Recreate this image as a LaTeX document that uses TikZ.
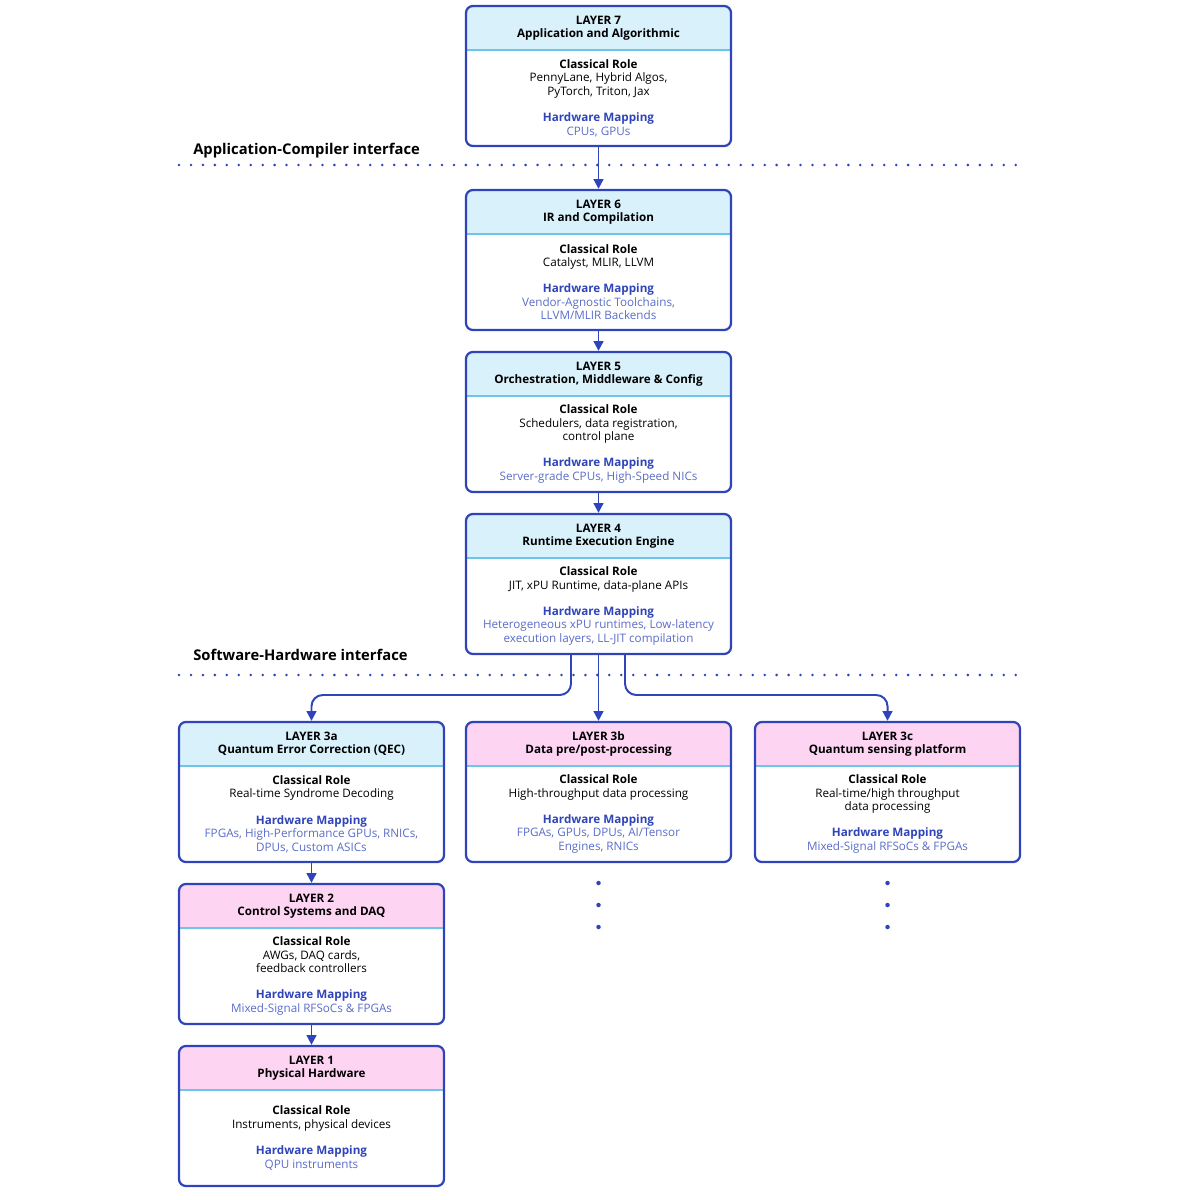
\documentclass[tikz,border=0pt]{standalone}
\usepackage{fontspec}
\setmainfont{Open Sans}
\usetikzlibrary{arrows.meta}
\definecolor{frameblue}{HTML}{2E44B8}
\definecolor{hdrcyan}{HTML}{D9F1FB}
\definecolor{hdrpink}{HTML}{FDD5F3}
\definecolor{sepcyan}{HTML}{6CC6EA}
\definecolor{mapdark}{HTML}{2E44B8}
\definecolor{maplight}{HTML}{5A6CC8}
\tikzset{
  frame/.style={draw=frameblue, line width=1.6pt, rounded corners=5pt},
  sepline/.style={draw=sepcyan, line width=0.8pt},
  title/.style={font=\fontsize{8.3}{9.6}\selectfont\bfseries, align=center, inner sep=0pt},
  body/.style={font=\fontsize{8.3}{9.6}\selectfont, align=center, inner sep=0pt},
  flow/.style={draw=frameblue, line width=1.4pt, -{Triangle[length=7pt,width=7pt]}},
  iface/.style={draw=frameblue, line width=2pt, line cap=round, dash pattern=on 0pt off 8.5pt},
  ifacelabel/.style={font=\fontsize{10.5}{12}\selectfont\bfseries, anchor=west, inner sep=0pt},
  vdot/.style={circle, fill=frameblue, inner sep=0pt, minimum size=3.2pt},
}
\newcommand{\rolehead}{\textbf{Classical Role}}
\newcommand{\maphead}{\textcolor{mapdark}{\textbf{Hardware Mapping}}}
% name, center x, top y, header fill, title, body
\newcommand{\layer}[6]{%
  \fill[#4] (#2-132.5,#3+44) [rounded corners=5pt] -- (#2-132.5,#3) -- (#2+132.5,#3) [sharp corners] -- (#2+132.5,#3+44) -- cycle;
  \draw[sepline] (#2-132.5,#3+44) -- (#2+132.5,#3+44);
  \node[frame, minimum width=6.625cm, minimum height=3.5cm] (#1) at (#2,#3+70) {};
  \node[title] (#1-t) at (#2,#3+22) {#5};
  \node[body] (#1-b) at (#2,#3+92) {#6};
}
\begin{document}
\begin{tikzpicture}[x=0.025cm, y=-0.025cm]
\useasboundingbox (0,0) rectangle (1200,1200);
% layers
\layer{l7}{598.5}{6}{hdrcyan}{LAYER 7\\Application and Algorithmic}
  {\rolehead\\PennyLane, Hybrid Algos,\\PyTorch, Triton, Jax\\[9pt]\maphead\\\textcolor{maplight}{CPUs, GPUs}}
\layer{l6}{598.5}{190}{hdrcyan}{LAYER 6\\IR and Compilation}
  {\rolehead\\Catalyst, MLIR, LLVM\\[9pt]\maphead\\\textcolor{maplight}{Vendor-Agnostic Toolchains,}\\\textcolor{maplight}{LLVM/MLIR Backends}}
\layer{l5}{598.5}{352}{hdrcyan}{LAYER 5\\Orchestration, Middleware \& Config}
  {\rolehead\\Schedulers, data registration,\\control plane\\[9pt]\maphead\\\textcolor{maplight}{Server-grade CPUs, High-Speed NICs}}
\layer{l4}{598.5}{514}{hdrcyan}{LAYER 4\\Runtime Execution Engine}
  {\rolehead\\JIT, xPU Runtime, data-plane APIs\\[9pt]\maphead\\\textcolor{maplight}{Heterogeneous xPU runtimes, Low-latency}\\\textcolor{maplight}{execution layers, LL-JIT compilation}}
\layer{l3a}{311.5}{722}{hdrcyan}{LAYER 3a\\Quantum Error Correction (QEC)}
  {\rolehead\\Real-time Syndrome Decoding\\[9pt]\maphead\\\textcolor{maplight}{FPGAs, High-Performance GPUs, RNICs,}\\\textcolor{maplight}{DPUs, Custom ASICs}}
\layer{l3b}{598.5}{722}{hdrpink}{LAYER 3b\\Data pre/post-processing}
  {\rolehead\\High-throughput data processing\\[9pt]\maphead\\\textcolor{maplight}{FPGAs, GPUs, DPUs, AI/Tensor}\\\textcolor{maplight}{Engines, RNICs}}
\layer{l3c}{887.5}{722}{hdrpink}{LAYER 3c\\Quantum sensing platform}
  {\rolehead\\Real-time/high throughput\\data processing\\[9pt]\maphead\\\textcolor{maplight}{Mixed-Signal RFSoCs \& FPGAs}}
\layer{l2}{311.5}{884}{hdrpink}{LAYER 2\\Control Systems and DAQ}
  {\rolehead\\AWGs, DAQ cards,\\feedback controllers\\[9pt]\maphead\\\textcolor{maplight}{Mixed-Signal RFSoCs \& FPGAs}}
\layer{l1}{311.5}{1046}{hdrpink}{LAYER 1\\Physical Hardware}
  {\rolehead\\Instruments, physical devices\\[9pt]\maphead\\\textcolor{maplight}{QPU instruments}}
% interfaces
\coordinate (i1w) at (179,165); \coordinate (i1e) at (1022,165);
\coordinate (i2w) at (179,675); \coordinate (i2e) at (1022,675);
\draw[iface] (i1w) -- (i1e);
\draw[iface] (i2w) -- (i2e);
\node[ifacelabel] (i1l) at (193,151) {Application-Compiler interface};
\node[ifacelabel] (i2l) at (193,655) {Software-Hardware interface};
% connectors
\draw[flow] (l7.south) -- (l6.north);
\draw[flow] (l6.south) -- (l5.north);
\draw[flow] (l5.south) -- (l4.north);
\draw[flow] (l4.south) -- (l3b.north);
\draw[flow, rounded corners=8pt] (l4.south -| 571,0) |- (450,695) -| (l3a.north);
\draw[flow, rounded corners=8pt] (l4.south -| 625,0) |- (750,695) -| (l3c.north);
\draw[flow] (l3a.south) -- (l2.north);
\draw[flow] (l2.south) -- (l1.north);
% continuation dots
\foreach \yy in {883,905,927} {
  \node[vdot] at (598.5,\yy) {};
  \node[vdot] at (887.5,\yy) {};
}
\end{tikzpicture}
\end{document}
